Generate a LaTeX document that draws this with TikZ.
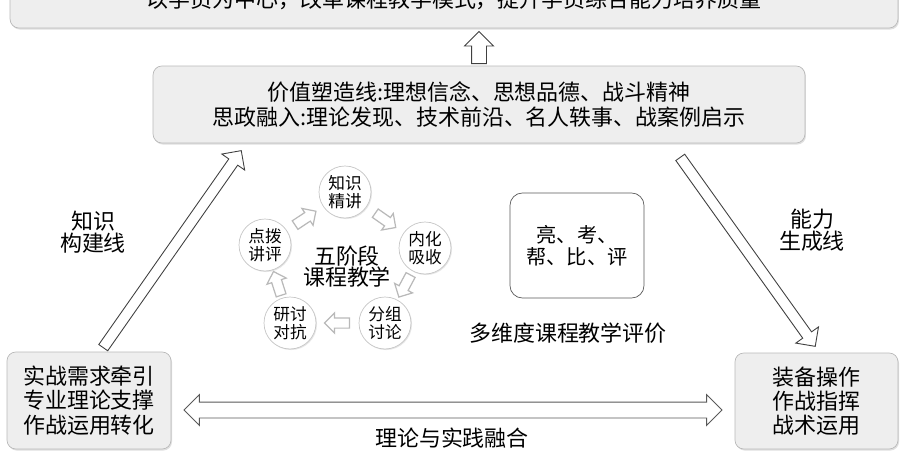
\documentclass[tikz,border=0pt]{standalone}
\usepackage{fontspec}
\setmainfont{Noto Sans CJK SC}
\usetikzlibrary{calc,shapes.arrows,shadows}

% fleche creuse entre deux points
\newcommand\blocfleche[3][]{%
  \path let \p1=($(#3)-(#2)$), \n1={atan2(\y1,\x1)}, \n2={veclen(\x1,\y1)} in
    node[grossefleche, #1, anchor=tail, rotate=\n1, minimum height=\n2] (f#2#3) at (#2) {};}

\begin{document}
\begin{tikzpicture}[x=0.02cm, y=-0.02cm,
  boite/.style={draw=gray!55, fill=gray!13, rounded corners=5pt, align=center, inner sep=0pt,
    drop shadow={opacity=0.25, shadow xshift=0.6pt, shadow yshift=-0.9pt}},
  etape/.style={circle, draw=gray!45, fill=white, minimum size=1.04cm, inner sep=0pt, align=center,
    font=\fontsize{9.5}{10.2}\selectfont, drop shadow={opacity=0.2, shadow xshift=0.6pt, shadow yshift=-0.6pt}},
  lbl/.style={align=center, font=\fontsize{12.5}{11.5}\selectfont},
  grossefleche/.style={single arrow, draw=black!75, fill=white, line width=0.5pt, inner sep=0pt,
    inner ysep=0.1cm, single arrow head extend=0.17cm},
  petitefleche/.style={draw=gray!55, line width=0.7pt, inner ysep=0.09cm, single arrow head extend=0.1cm},
  doublefleche/.style={double arrow, draw=black!65, fill=white, line width=0.5pt, inner sep=0pt,
    inner ysep=0.15cm, double arrow head extend=0.15cm}]
  \useasboundingbox (0,0) rectangle (903,453);
  \clip (0,0) rectangle (903,453);

  % Cadres
  \node[boite, minimum width=17.76cm, minimum height=1.16cm, font=\fontsize{12.5}{14}\selectfont] (but) at (454,-1)
    {以学员为中心，改革课程教学模式，提升学员综合能力培养质量};
  \node[boite, minimum width=13.04cm, minimum height=1.54cm, font=\fontsize{12.5}{14.2}\selectfont] (valeur) at (479,104.5)
    {价值塑造线:理想信念、思想品德、战斗精神\\思政融入:理论发现、技术前沿、名人轶事、战案例启示};
  \node[boite, minimum width=3.28cm, minimum height=1.94cm, font=\fontsize{12.5}{13.8}\selectfont] (besoin) at (89,400.5)
    {实战需求牵引\\专业理论支撑\\作战运用转化};
  \node[boite, minimum width=3.26cm, minimum height=1.92cm, font=\fontsize{12.5}{13.6}\selectfont] (aptitude) at (816.5,401)
    {装备操作\\作战指挥\\战术运用};

  % Cinq etapes
  \node[etape] (c1) at (345,192) {知识\\精讲};
  \node[etape] (c2) at (425,248) {内化\\吸收};
  \node[etape] (c3) at (385,323) {分组\\讨论};
  \node[etape] (c4) at (290,323) {研讨\\对抗};
  \node[etape] (c5) at (265,245) {点拨\\讲评};
  \node[lbl, font=\fontsize{12.5}{12}\selectfont] (cinq) at (347,267) {五阶段\\课程教学};
  \foreach \a/\b in {c5/c1, c1/c2, c2/c3, c3/c4, c4/c5} {
    \coordinate (s\a) at ($(\a)!0.5!(\b)!0.25cm!(\a)$);
    \coordinate (e\a) at ($(\a)!0.5!(\b)!0.25cm!(\b)$);
    \blocfleche[petitefleche]{s\a}{e\a}
  }

  % Evaluation
  \node[draw=gray!70!black, fill=white, rounded corners=7pt, minimum width=2.68cm, minimum height=2.1cm,
    align=center, font=\fontsize{11.5}{12.8}\selectfont] (eval) at (577,245.5) {亮、考、\\帮、比、评};
  \node[lbl] (evaltxt) at (568,333) {多维度课程教学评价};

  % Lignes
  \node[lbl] (savoir) at (93,232) {知识\\构建线};
  \node[lbl] (capacite) at (812,230) {能力\\生成线};
  \node[lbl] (fusion) at (452,438) {理论与实践融合};

  % Fleches
  \coordinate (h0) at (479,64);
  \coordinate (h1) at (479,32);
  \coordinate (k0) at (103,348);
  \coordinate (k1) at (241,151);
  \coordinate (g0) at (680,157);
  \coordinate (g1) at (815,346);
  \coordinate (t0) at (184,410);
  \coordinate (t1) at (722,410);
  \blocfleche[inner ysep=0.14cm, single arrow head extend=0.14cm]{h0}{h1}
  \blocfleche{k0}{k1}
  \blocfleche{g0}{g1}
  \path let \p1=($(t1)-(t0)$) in
    node[doublefleche, minimum height=\x1] (lien) at ($(t0)!0.5!(t1)$) {};
\end{tikzpicture}
\end{document}
